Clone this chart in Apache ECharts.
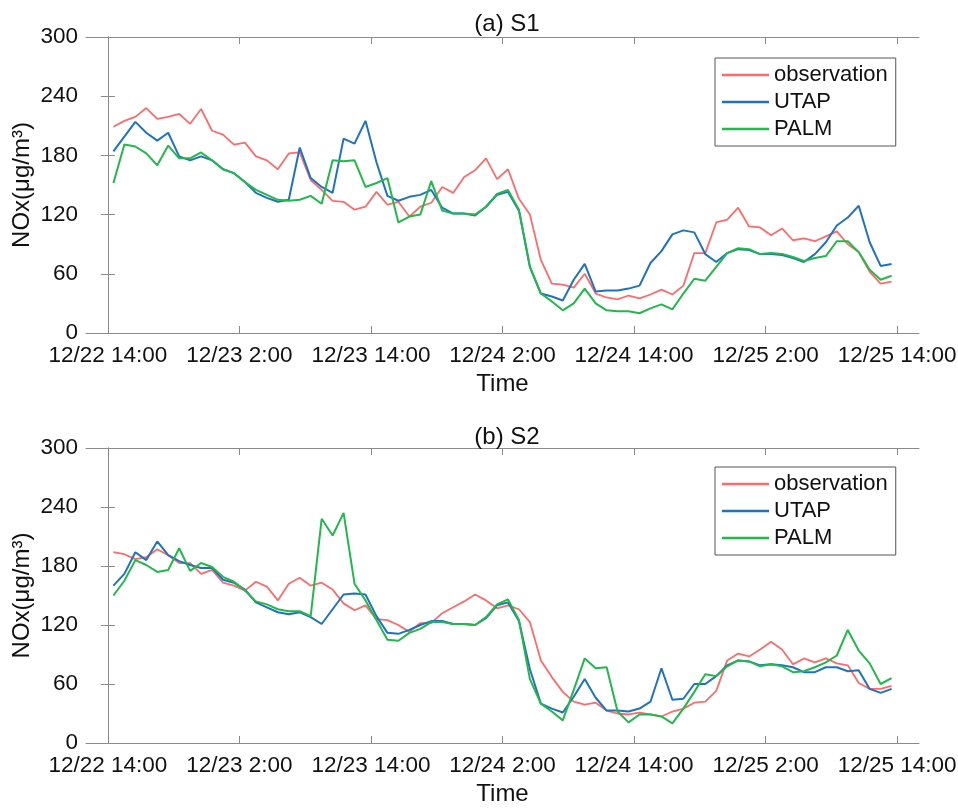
<!DOCTYPE html>
<html lang="en">
<head>
<meta charset="UTF-8">
<title>NOx S1 / S2</title>
<script src="https://cdn.jsdelivr.net/npm/echarts@6/dist/echarts.min.js"></script>
<style>
    html, body { margin: 0; padding: 0; background: #fff; }
    #main { width: 958px; height: 809px; }
</style>
</head>
<body>
<div id="main"></div>
<script type="text/javascript">
    // hours after 12/22 14:00
    var tickHours = [0, 12, 24, 36, 48, 60, 72];
    var tickLabels = ['12/22 14:00', '12/23 2:00', '12/23 14:00', '12/24 2:00', '12/24 14:00', '12/25 2:00', '12/25 14:00'];

    // (a) S1
    var obsA = [209, 215, 219, 228, 217, 219, 222, 212, 227, 205,
        201, 191, 193, 179, 175, 166, 182, 183, 155, 145,
        134, 133, 125, 128, 143, 130, 133, 118, 128, 132,
        148, 142, 158, 165, 177, 156, 166, 136, 120, 74,
        50, 49, 46, 60, 40, 36, 34, 38, 35, 39,
        44, 39, 48, 81, 81, 112, 115, 127, 108, 107,
        99, 106, 94, 96, 93, 98, 103, 90, 82, 62,
        50, 52];
    var utapA = [184, 199, 214, 203, 195, 203, 179, 175, 179, 175,
        166, 162, 153, 142, 137, 133, 135, 188, 157, 148,
        142, 197, 192, 215, 173, 139, 134, 138, 140, 145,
        127, 121, 121, 119, 128, 140, 143, 124, 67, 40,
        37, 33, 54, 70, 42, 43, 43, 45, 48, 71,
        83, 100, 104, 102, 80, 72, 81, 85, 84, 80,
        80, 79, 76, 72, 80, 92, 109, 117, 129, 92,
        68, 70];
    var palmA = [152, 191, 189, 182, 170, 190, 177, 177, 183, 175,
        166, 162, 153, 145, 140, 135, 134, 135, 139, 131,
        175, 174, 175, 148, 152, 157, 112, 118, 120, 154,
        124, 121, 121, 120, 128, 141, 145, 125, 67, 40,
        32, 23, 30, 45, 30, 23, 22, 22, 20, 25,
        29, 24, 40, 55, 53, 67, 81, 86, 85, 80,
        81, 80, 77, 73, 76, 78, 93, 93, 82, 64,
        54, 58];

    // (b) S2
    var obsB = [194, 192, 187, 189, 197, 191, 183, 183, 172, 176,
        163, 160, 155, 164, 159, 145, 162, 168, 160, 163,
        156, 142, 135, 140, 126, 125, 120, 113, 122, 122,
        132, 138, 144, 151, 145, 137, 140, 136, 123, 84,
        67, 52, 42, 39, 41, 33, 30, 29, 31, 29,
        27, 32, 35, 41, 42, 53, 84, 91, 88, 95,
        103, 95, 80, 86, 82, 86, 81, 79, 61, 55,
        55, 58];
    var utapB = [160, 172, 194, 186, 205, 191, 185, 181, 178, 178,
        166, 163, 156, 143, 138, 133, 131, 133, 128, 121,
        136, 151, 152, 151, 129, 112, 111, 115, 120, 124,
        124, 121, 121, 120, 127, 140, 143, 124, 75, 40,
        35, 31, 47, 65, 46, 33, 33, 32, 35, 42,
        76, 44, 45, 60, 60, 68, 79, 84, 83, 79,
        80, 79, 77, 72, 72, 77, 77, 73, 74, 55,
        51, 55];
    var palmB = [150, 165, 186, 181, 174, 176, 198, 175, 183, 179,
        169, 164, 155, 144, 141, 136, 134, 134, 129, 228,
        211, 234, 162, 145, 125, 105, 104, 112, 116, 123,
        123, 121, 121, 120, 128, 141, 146, 125, 65, 40,
        32, 23, 54, 86, 76, 77, 32, 21, 29, 29,
        27, 20, 35, 52, 70, 68, 78, 84, 83, 78,
        80, 78, 72, 73, 77, 82, 89, 115, 94, 81,
        60, 66];

    // hourly samples, centred on the half hour
    var hours = obsA.map(function (v, i) { return i + 0.5; });

    var font = '"Liberation Sans", Arial, sans-serif';
    var axisGray = '#8a8a8a';
    var colors = ['#ff6b6b', '#1f72bf', '#22b84a'];
    var names = ['observation', 'UTAP', 'PALM'];

    function pairs(vals) {
        return vals.map(function (v, i) { return [hours[i], v]; });
    }

    function xAxisPair(gridIndex) {
        var base = {
            type: 'value', gridIndex: gridIndex, min: -2, max: 74,
            splitLine: { show: false },
            axisLine: { show: true, onZero: false, lineStyle: { color: axisGray } },
            axisTick: { show: true, inside: true, length: 7, customValues: tickHours, lineStyle: { color: axisGray } }
        };
        var bottom = echarts.util.merge({
            position: 'bottom',
            name: 'Time', nameLocation: 'middle', nameGap: 39, nameMoveOverlap: false,
            nameTextStyle: { fontSize: 24, color: '#111', fontFamily: font },
            axisLabel: {
                customValues: tickHours, fontSize: 22.5, color: '#111', fontFamily: font, margin: 11,
                formatter: function (v) { return tickLabels[tickHours.indexOf(v)]; }
            }
        }, base, true);
        var top = echarts.util.merge({ position: 'top', axisLabel: { show: false } }, base, true);
        return [bottom, top];
    }

    function yAxisPair(gridIndex) {
        var base = {
            type: 'value', gridIndex: gridIndex, min: 0, max: 300, interval: 60,
            splitLine: { show: false },
            axisLine: { show: true, lineStyle: { color: axisGray } },
            axisTick: { show: true, inside: true, length: 7, lineStyle: { color: axisGray } }
        };
        var left = echarts.util.merge({
            position: 'left',
            name: 'NOx(μg/m³)', nameLocation: 'middle', nameGap: 64, nameRotate: 90, nameMoveOverlap: false,
            nameTextStyle: { fontSize: 24, color: '#111', fontFamily: font, verticalAlign: 'middle' },
            axisLabel: { fontSize: 22.5, color: '#111', fontFamily: font, margin: 8 }
        }, base, true);
        var right = echarts.util.merge({ position: 'right', axisLabel: { show: false } }, base, true);
        return [left, right];
    }

    function panelSeries(axisIndex, sets) {
        return sets.map(function (vals, k) {
            return {
                name: names[k], type: 'line', xAxisIndex: axisIndex, yAxisIndex: axisIndex,
                data: pairs(vals), symbol: 'none', animation: false,
                lineStyle: { color: colors[k], width: k === 0 ? 1.8 : 2 },
                itemStyle: { color: colors[k] }
            };
        });
    }

    function legendAt(top) {
        return {
            data: names, orient: 'vertical', left: 715, top: top,
            icon: 'rect', itemWidth: 47, itemHeight: 2.5,
            padding: [6, 8, 6, 7], itemGap: 5,
            borderColor: '#555', borderWidth: 1, backgroundColor: '#fff',
            textStyle: { fontSize: 22, color: '#111', fontFamily: font, lineHeight: 22 }
        };
    }

    var myChart = echarts.init(document.getElementById('main'));
    var xa = xAxisPair(0), xb = xAxisPair(1);
    var ya = yAxisPair(0), yb = yAxisPair(1);

    var option = {
        backgroundColor: '#fff',
        animation: false,
        title: [
            { text: '(a) S1', left: 502, top: 7, textAlign: 'center',
              textStyle: { fontSize: 24, fontWeight: 'normal', color: '#111', fontFamily: font } },
            { text: '(b) S2', left: 502, top: 420, textAlign: 'center',
              textStyle: { fontSize: 24, fontWeight: 'normal', color: '#111', fontFamily: font } }
        ],
        legend: [legendAt(58), legendAt(467)],
        grid: [
            { left: 86, top: 37, width: 833, height: 296, outerBoundsMode: 'none' },
            { left: 86, top: 448, width: 833, height: 295, outerBoundsMode: 'none' }
        ],
        // bottom a, bottom b, top a, top b
        xAxis: [xa[0], xb[0], xa[1], xb[1]],
        yAxis: [ya[0], yb[0], ya[1], yb[1]],
        series: panelSeries(0, [obsA, utapA, palmA]).concat(panelSeries(1, [obsB, utapB, palmB]))
    };
    myChart.setOption(option);
</script>
</body>
</html>
